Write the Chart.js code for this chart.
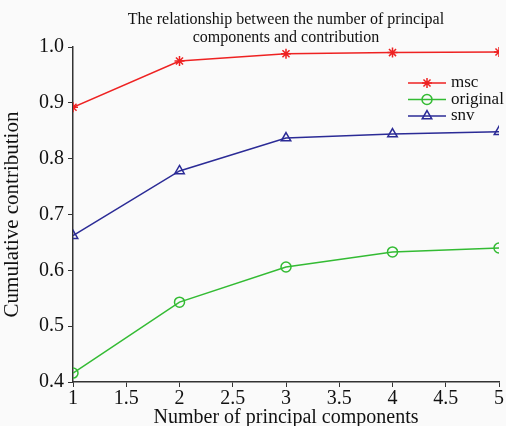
<!DOCTYPE html>
<html><head><meta charset="utf-8">
<script src="https://cdn.jsdelivr.net/npm/chart.js@4/dist/chart.umd.min.js"></script>
<style>html,body{margin:0;padding:0;background:#fafafa;}canvas{display:block;}</style>
</head><body>
<canvas id="c" width="506" height="426"></canvas>
<script>
const components = [1, 2, 3, 4, 5];
const msc = [0.892, 0.975, 0.988, 0.990, 0.991];
const original = [0.416, 0.543, 0.606, 0.633, 0.640];
const snv = [0.662, 0.778, 0.837, 0.844, 0.848];
const titleLines = ["The relationship between the number of principal", "components and contribution"];

const serif = "'Liberation Serif', 'Times New Roman', serif";
const toXY = arr => arr.map((v, i) => ({x: components[i], y: v}));

const overlay = {
  id: 'overlay',
  afterDraw(chart) {
    const ctx = chart.ctx, a = chart.chartArea;
    ctx.save();
    ctx.fillStyle = '#111';
    ctx.font = '16px ' + serif;
    ctx.textAlign = 'center';
    ctx.textBaseline = 'middle';
    const cx = (a.left + a.right) / 2;
    ctx.fillText(titleLines[0], cx, 20);
    ctx.fillText(titleLines[1], cx, 38);
    // legend
    const items = chart.data.datasets;
    const x0 = 408, x1 = 446, y0 = 83, dy = 16.5;
    items.forEach((ds, i) => {
      const y = y0 + i * dy;
      ctx.strokeStyle = ds.borderColor;
      ctx.lineWidth = 1.5;
      ctx.beginPath(); ctx.moveTo(x0, y); ctx.lineTo(x1, y); ctx.stroke();
      ctx.fillStyle = 'rgba(0,0,0,0)';
      Chart.helpers.drawPoint(ctx, {pointStyle: ds.pointStyle, radius: ds.pointRadius, borderWidth: 1.5, rotation: 0}, (x0 + x1) / 2, y);
      ctx.fillStyle = '#111';
      ctx.font = '17px ' + serif;
      ctx.textAlign = 'left';
      ctx.fillText(ds.label, x1 + 5, y);
    });
    ctx.restore();
  }
};

new Chart(document.getElementById('c'), {
  type: 'line',
  data: {
    datasets: [
      {label: 'msc', data: toXY(msc), borderColor: '#ee2222', backgroundColor: '#ee2222', pointStyle: 'star', pointRadius: 5, borderWidth: 1.5, pointBorderWidth: 1.5},
      {label: 'original', data: toXY(original), borderColor: '#33bb33', backgroundColor: 'rgba(0,0,0,0)', pointStyle: 'circle', pointRadius: 5, borderWidth: 1.5, pointBorderWidth: 1.5},
      {label: 'snv', data: toXY(snv), borderColor: '#2b2b96', backgroundColor: 'rgba(0,0,0,0)', pointStyle: 'triangle', pointRadius: 5.5, borderWidth: 1.5, pointBorderWidth: 1.5}
    ]
  },
  options: {
    responsive: false,
    animation: false,
    layout: {padding: {top: 47, right: 3, left: 0, bottom: 0}},
    plugins: {legend: {display: false}, tooltip: {enabled: false}, title: {display: false}},
    scales: {
      x: {
        type: 'linear', min: 1, max: 5,
        ticks: {stepSize: 0.5, color: '#111', font: {family: serif, size: 20}, padding: 0, maxRotation: 0, callback: v => String(v)},
        grid: {drawOnChartArea: false, drawTicks: true, tickLength: 5, color: '#333'},
        border: {display: true, color: '#333', width: 1.5},
        title: {display: true, text: 'Number of principal components', color: '#111', font: {family: serif, size: 20}, padding: {top: 0, bottom: -4}},
        afterFit(s) { s.height = 44; }
      },
      y: {
        min: 0.4, max: 1.0,
        ticks: {stepSize: 0.1, color: '#111', font: {family: serif, size: 20}, padding: 4, callback: v => v.toFixed(1)},
        grid: {drawOnChartArea: false, drawTicks: true, tickLength: 5, color: '#333'},
        border: {display: true, color: '#333', width: 1.5},
        title: {display: true, text: 'Cumulative contribution', color: '#111', font: {family: serif, size: 21}, padding: 0},
        afterFit(s) { s.width = 73; }
      }
    }
  },
  plugins: [overlay]
});
</script>
</body></html>
